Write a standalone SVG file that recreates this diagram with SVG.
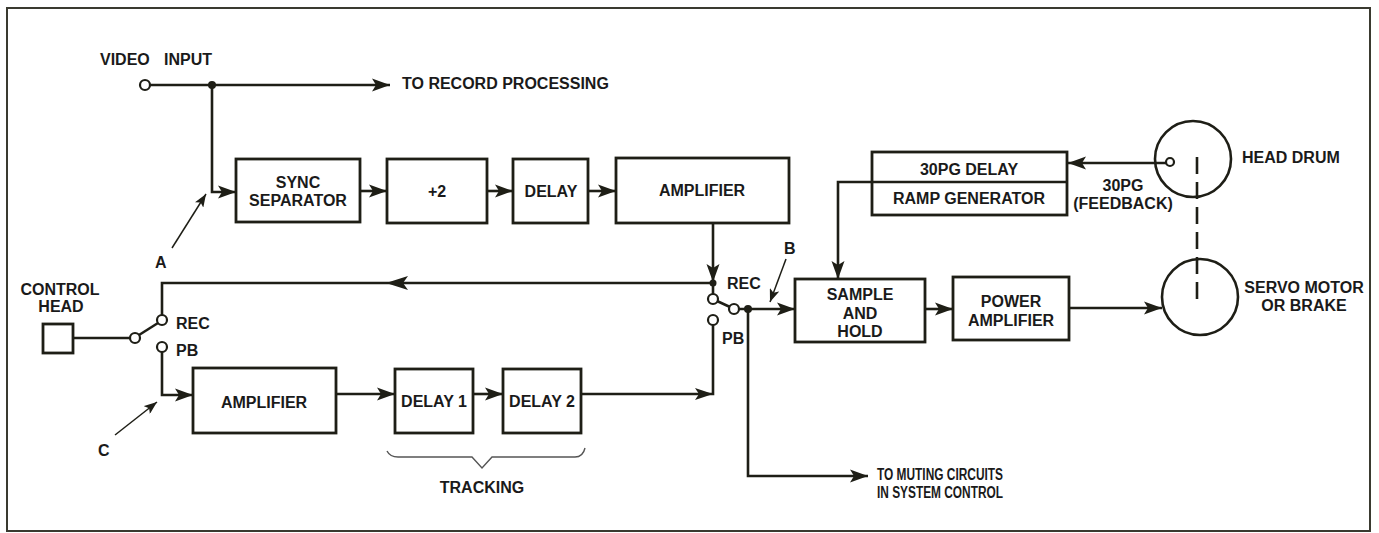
<svg xmlns="http://www.w3.org/2000/svg" width="1379" height="533" viewBox="0 0 1379 533">
<defs>
<style>
.box{fill:#fff;stroke:#1e1e16;stroke-width:2.8}
.ln{fill:none;stroke:#1e1e16;stroke-width:2.6}
.thin{fill:none;stroke:#1e1e16;stroke-width:1.5}
.brace{fill:none;stroke:#555;stroke-width:1.4}
.ring{fill:#fff;stroke:#1e1e16;stroke-width:2.2}
.dot{fill:#1e1e16}
.ah{fill:#1e1e16}
text{font-family:"Liberation Sans",Arial,sans-serif;font-weight:bold;font-size:16px;fill:#1a1a1a}
.c{text-anchor:middle}
</style>
<marker id="arr" markerUnits="userSpaceOnUse" markerWidth="20" markerHeight="14" refX="18" refY="7" orient="auto">
<path d="M0,0.5 L18,7 L0,13.5 L4,7 Z" fill="#1e1e16"/>
</marker>
<marker id="sarr" markerUnits="userSpaceOnUse" markerWidth="14" markerHeight="10" refX="13" refY="5" orient="auto">
<path d="M0,0 L13,5 L0,10 L3,5 Z" fill="#1e1e16"/>
</marker>
</defs>
<rect x="0" y="0" width="1379" height="533" fill="#fff"/>
<rect x="7" y="8" width="1363" height="523" fill="none" stroke="#3a3a30" stroke-width="2"/>

<g id="connectors">
<path class="ln" d="M150,85 H390" marker-end="url(#arr)"/>
<path class="ln" d="M212,85 V192 H236" marker-end="url(#arr)"/>
<path class="ln" d="M360,191 H387" marker-end="url(#arr)"/>
<path class="ln" d="M487,191 H513" marker-end="url(#arr)"/>
<path class="ln" d="M588,191 H616" marker-end="url(#arr)"/>
<path class="ln" d="M713,223 V282" marker-end="url(#arr)"/>
<path class="ln" d="M713,283 V294"/>
<path class="ln" d="M713,283 H162 V315"/>
<path class="ah" d="M386,283 L408,276 L403,283 L408,290 Z"/>
<path class="ln" d="M73,338 H130"/>
<path class="ln" d="M139,335 L158,323"/>
<path class="ln" d="M162,352 V395 H193" marker-end="url(#arr)"/>
<path class="ln" d="M336,394 H395" marker-end="url(#arr)"/>
<path class="ln" d="M473,394 H503" marker-end="url(#arr)"/>
<path class="ln" d="M581,394 H713 V325"/>
<path class="ah" d="M713,394 L695,388 L699,394 L695,400 Z"/>
<path class="ln" d="M717,301 L730,307"/>
<path class="ln" d="M739,309 H795" marker-end="url(#arr)"/>
<path class="ln" d="M748,309 V476 H868" marker-end="url(#arr)"/>
<path class="ln" d="M925,309 H953" marker-end="url(#arr)"/>
<path class="ln" d="M1069,308 H1162" marker-end="url(#arr)"/>
<path class="ln" d="M1166,163 H1068" marker-end="url(#arr)"/>
<path class="ln" d="M872,182 H838 V279" marker-end="url(#arr)"/>
<path class="ln" d="M1197,157 V303" stroke-dasharray="17,8"/>
<circle class="dot" cx="212" cy="85" r="4"/>
<circle class="dot" cx="713" cy="283" r="3.5"/>
<circle class="dot" cx="748" cy="309" r="4"/>
<path class="thin" d="M172,248 L206,194" marker-end="url(#sarr)"/>
<path class="thin" d="M786,259 L770,302" marker-end="url(#sarr)"/>
<path class="thin" d="M115,435 L157,402" marker-end="url(#sarr)"/>
<path class="brace" d="M387,451 Q390,457 398,457 L472,457 L482,468 L492,457 L575,457 Q583,457 585,448"/>
</g>

<g id="video-input">
<circle class="ring" cx="145" cy="85" r="5"/>
<text x="100" y="65">VIDEO</text>
<text x="164" y="65">INPUT</text>
</g>
<g id="to-record">
<text x="402" y="89">TO RECORD PROCESSING</text>
</g>
<g id="sync-separator">
<rect class="box" x="236" y="159" width="124" height="63"/>
<text class="c" x="298" y="188">SYNC</text>
<text class="c" x="298" y="206">SEPARATOR</text>
</g>
<g id="div2">
<rect class="box" x="387" y="159" width="100" height="64"/>
<text class="c" x="437" y="197">+2</text>
</g>
<g id="delay">
<rect class="box" x="513" y="159" width="75" height="64"/>
<text class="c" x="551" y="197">DELAY</text>
</g>
<g id="amplifier-top">
<rect class="box" x="616" y="158" width="173" height="65"/>
<text class="c" x="702" y="196">AMPLIFIER</text>
</g>
<g id="label-a">
<text x="155" y="268">A</text>
</g>
<g id="control-head">
<rect class="box" x="43" y="324" width="30" height="29"/>
<text class="c" x="60" y="295">CONTROL</text>
<text class="c" x="61" y="312">HEAD</text>
</g>
<g id="switch-left">
<circle class="ring" cx="135" cy="338" r="5"/>
<circle class="ring" cx="162" cy="320" r="5"/>
<circle class="ring" cx="162" cy="347" r="5"/>
<text x="176" y="329">REC</text>
<text x="176" y="356">PB</text>
</g>
<g id="label-c">
<text x="98" y="456">C</text>
</g>
<g id="amplifier-bottom">
<rect class="box" x="193" y="368" width="143" height="65"/>
<text class="c" x="264" y="408">AMPLIFIER</text>
</g>
<g id="delay1">
<rect class="box" x="395" y="369" width="78" height="64"/>
<text class="c" x="434" y="407">DELAY 1</text>
</g>
<g id="delay2">
<rect class="box" x="503" y="369" width="78" height="64"/>
<text class="c" x="542" y="407">DELAY 2</text>
</g>
<g id="tracking">
<text class="c" x="482" y="493" font-size="15">TRACKING</text>
</g>
<g id="switch-mid">
<circle class="ring" cx="713" cy="299" r="5"/>
<circle class="ring" cx="734" cy="309" r="5"/>
<circle class="ring" cx="713" cy="320" r="5"/>
<text x="727" y="289">REC</text>
<text x="722" y="344">PB</text>
</g>
<g id="label-b">
<text x="784" y="254">B</text>
</g>
<g id="sample-hold">
<rect class="box" x="795" y="279" width="130" height="63"/>
<text class="c" x="860" y="300">SAMPLE</text>
<text class="c" x="860" y="319">AND</text>
<text class="c" x="860" y="337">HOLD</text>
</g>
<g id="power-amplifier">
<rect class="box" x="953" y="277" width="116" height="63"/>
<text class="c" x="1011" y="307">POWER</text>
<text class="c" x="1011" y="326">AMPLIFIER</text>
</g>
<g id="pg-delay-ramp">
<rect class="box" x="872" y="152" width="195" height="63"/>
<line class="ln" x1="872" y1="182" x2="1067" y2="182"/>
<text class="c" x="969" y="175">30PG DELAY</text>
<text class="c" x="969" y="204">RAMP GENERATOR</text>
</g>
<g id="feedback-label">
<text class="c" x="1123" y="191">30PG</text>
<text class="c" x="1123" y="209">(FEEDBACK)</text>
</g>
<g id="head-drum">
<circle cx="1193" cy="159" r="38" fill="none" stroke="#1e1e16" stroke-width="2.6"/>
<circle class="ring" cx="1170" cy="162" r="4"/>
<text x="1242" y="163" font-size="15.5">HEAD DRUM</text>
</g>
<g id="servo-motor">
<circle cx="1200" cy="297" r="38" fill="none" stroke="#1e1e16" stroke-width="2.6"/>
<text class="c" x="1304" y="293" font-size="15.5">SERVO MOTOR</text>
<text class="c" x="1304" y="311" font-size="15.5">OR BRAKE</text>
</g>
<g id="to-muting">
<text x="877" y="480" textLength="126" lengthAdjust="spacingAndGlyphs">TO MUTING CIRCUITS</text>
<text x="877" y="498" textLength="126" lengthAdjust="spacingAndGlyphs">IN SYSTEM CONTROL</text>
</g>
</svg>
